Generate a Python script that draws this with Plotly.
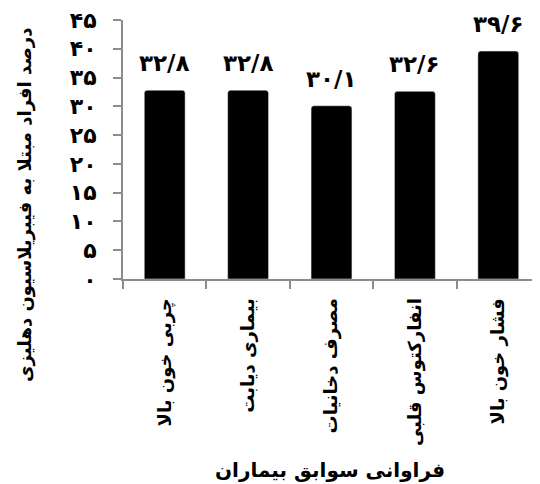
import plotly.graph_objects as go

categories = ["چربی خون بالا", "بیماری دیابت", "مصرف دخانیات", "انفارکتوس قلبی", "فشار خون بالا"]
values = [32.8, 32.8, 30.1, 32.6, 39.6]
y_ticks = [0, 5, 10, 15, 20, 25, 30, 35, 40, 45]
x_title = "فراوانی سوابق بیماران"
y_title = "درصد افراد مبتلا به فیبریلاسیون دهلیزی"

FA = str.maketrans("0123456789", "۰۱۲۳۴۵۶۷۸۹")
def fa(v):
    s = ("%g" % v).replace(".", "/")
    return s.translate(FA)

FONT = "DejaVu Sans"
fig = go.Figure(go.Bar(
    x=categories, y=values,
    marker=dict(color="black", cornerradius=3),
    cliponaxis=False,
))
for c, v in zip(categories, values):
    fig.add_annotation(x=c, y=v, text=fa(v), showarrow=False,
                       yanchor="bottom", yshift=12,
                       font=dict(family=FONT, size=23, color="black", weight="bold"))
fig.update_layout(
    width=532, height=476,
    margin=dict(l=115, r=0, t=12, b=205, autoexpand=False),
    plot_bgcolor="white", paper_bgcolor="white",
    bargap=0.51, showlegend=False,
    font=dict(family=FONT, color="black"),
)
fig.update_xaxes(
    automargin=False,
    showline=True, linecolor="#8c8c8c", linewidth=2,
    ticks="outside", ticklen=8, tickcolor="#8c8c8c", tickwidth=2,
    tickson="boundaries", tickangle=-90, ticklabelstandoff=10,
    tickfont=dict(family=FONT, size=18, color="black", weight="bold"),
    showgrid=False,
)
fig.update_yaxes(
    automargin=False, ticklabeloverflow="allow",
    range=[0, 45], tickvals=y_ticks, ticktext=[fa(v) for v in y_ticks],
    showline=True, linecolor="#8c8c8c", linewidth=2,
    ticks="outside", ticklen=8, tickcolor="#8c8c8c", tickwidth=2,
    ticklabelstandoff=12,
    tickfont=dict(family=FONT, size=22, color="black", weight="bold"),
    showgrid=False, zeroline=False,
)
fig.add_annotation(text=y_title, textangle=-90, xref="paper", yref="paper",
                   x=-0.235, y=0.286, xanchor="center", yanchor="middle",
                   showarrow=False, font=dict(family=FONT, size=18, weight="bold"))
fig.add_annotation(text=x_title, xref="paper", yref="paper",
                   x=0.496, y=-0.737, xanchor="center", yanchor="middle",
                   showarrow=False, font=dict(family=FONT, size=20, weight="bold"))
fig.write_html("out.html")
